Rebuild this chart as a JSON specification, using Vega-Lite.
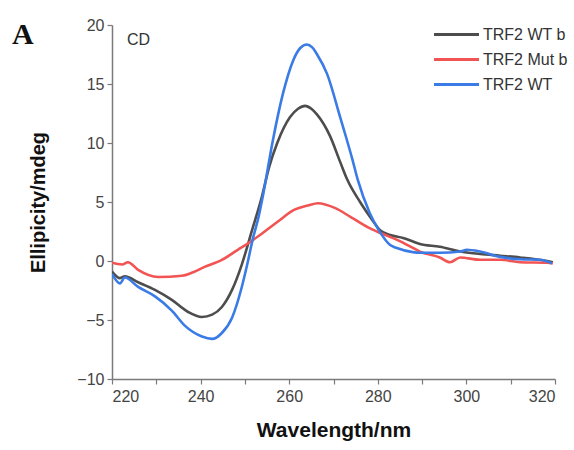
{
  "$schema": "https://vega.github.io/schema/vega-lite/v6.json",
  "width": 443,
  "height": 354,
  "autosize": {"type": "none"},
  "padding": {"left": 112, "top": 25, "right": 19, "bottom": 71},
  "background": "white",
  "title": {"text": "A", "anchor": "start", "frame": "group", "orient": "top", "offset": 0, "dx": -100, "dy": 57, "baseline": "alphabetic", "font": "Liberation Serif", "fontSize": 30, "fontWeight": "bold", "color": "#111"},
  "config": {
    "view": {"stroke": null},
    "font": "Liberation Sans",
    "axis": {"grid": false, "domainColor": "#7a7a7a", "domainWidth": 1.5, "tickColor": "#7a7a7a", "tickWidth": 1.2, "tickSize": 5, "labelColor": "#444", "labelFontSize": 16, "labelFont": "Liberation Sans", "titleFont": "Liberation Sans", "titleFontWeight": "bold", "titleColor": "#111", "titleFontSize": 20},
    "legend": {"orient": "none", "legendX": 328, "legendY": -7, "symbolType": "M-1.5,0H1.5", "symbolSize": 900, "symbolStrokeWidth": 3, "labelFontSize": 16, "labelColor": "#333", "labelFont": "Liberation Sans", "rowPadding": -1, "labelOffset": 10, "padding": 0}
  },
  "datasets": {
    "cd": [
      {"s": "TRF2 WT b", "wl": 220.0, "v": -0.9},
      {"s": "TRF2 WT b", "wl": 221.8, "v": -1.45},
      {"s": "TRF2 WT b", "wl": 222.9, "v": -1.3},
      {"s": "TRF2 WT b", "wl": 225.9, "v": -1.8},
      {"s": "TRF2 WT b", "wl": 229.7, "v": -2.45},
      {"s": "TRF2 WT b", "wl": 233.5, "v": -3.3},
      {"s": "TRF2 WT b", "wl": 237.1, "v": -4.3},
      {"s": "TRF2 WT b", "wl": 240.3, "v": -4.75},
      {"s": "TRF2 WT b", "wl": 242.6, "v": -4.55},
      {"s": "TRF2 WT b", "wl": 244.8, "v": -3.9},
      {"s": "TRF2 WT b", "wl": 247.1, "v": -2.45},
      {"s": "TRF2 WT b", "wl": 249.3, "v": -0.3},
      {"s": "TRF2 WT b", "wl": 251.6, "v": 2.6},
      {"s": "TRF2 WT b", "wl": 253.8, "v": 5.4},
      {"s": "TRF2 WT b", "wl": 255.5, "v": 8.0},
      {"s": "TRF2 WT b", "wl": 257.3, "v": 10.0},
      {"s": "TRF2 WT b", "wl": 260.2, "v": 12.2},
      {"s": "TRF2 WT b", "wl": 262.0, "v": 12.9},
      {"s": "TRF2 WT b", "wl": 263.6, "v": 13.15},
      {"s": "TRF2 WT b", "wl": 265.0, "v": 12.9},
      {"s": "TRF2 WT b", "wl": 266.3, "v": 12.4},
      {"s": "TRF2 WT b", "wl": 269.2, "v": 10.6},
      {"s": "TRF2 WT b", "wl": 271.5, "v": 8.4},
      {"s": "TRF2 WT b", "wl": 273.1, "v": 6.9},
      {"s": "TRF2 WT b", "wl": 276.0, "v": 5.0},
      {"s": "TRF2 WT b", "wl": 278.9, "v": 3.4},
      {"s": "TRF2 WT b", "wl": 280.5, "v": 2.6},
      {"s": "TRF2 WT b", "wl": 282.8, "v": 2.2},
      {"s": "TRF2 WT b", "wl": 285.7, "v": 1.95},
      {"s": "TRF2 WT b", "wl": 289.5, "v": 1.45},
      {"s": "TRF2 WT b", "wl": 294.0, "v": 1.2},
      {"s": "TRF2 WT b", "wl": 298.6, "v": 0.8},
      {"s": "TRF2 WT b", "wl": 303.1, "v": 0.6},
      {"s": "TRF2 WT b", "wl": 307.6, "v": 0.45},
      {"s": "TRF2 WT b", "wl": 312.1, "v": 0.3},
      {"s": "TRF2 WT b", "wl": 318.2, "v": 0.0},
      {"s": "TRF2 WT b", "wl": 319.5, "v": -0.1},
      {"s": "TRF2 Mut b", "wl": 220.0, "v": -0.15},
      {"s": "TRF2 Mut b", "wl": 222.3, "v": -0.3},
      {"s": "TRF2 Mut b", "wl": 223.6, "v": -0.1},
      {"s": "TRF2 Mut b", "wl": 225.9, "v": -0.75},
      {"s": "TRF2 Mut b", "wl": 230.4, "v": -1.35},
      {"s": "TRF2 Mut b", "wl": 235.8, "v": -1.25},
      {"s": "TRF2 Mut b", "wl": 238.0, "v": -1.0},
      {"s": "TRF2 Mut b", "wl": 240.9, "v": -0.5},
      {"s": "TRF2 Mut b", "wl": 244.8, "v": 0.1},
      {"s": "TRF2 Mut b", "wl": 248.4, "v": 0.95},
      {"s": "TRF2 Mut b", "wl": 250.7, "v": 1.5},
      {"s": "TRF2 Mut b", "wl": 253.4, "v": 2.2},
      {"s": "TRF2 Mut b", "wl": 257.3, "v": 3.3},
      {"s": "TRF2 Mut b", "wl": 261.2, "v": 4.35},
      {"s": "TRF2 Mut b", "wl": 264.2, "v": 4.7},
      {"s": "TRF2 Mut b", "wl": 266.5, "v": 4.9},
      {"s": "TRF2 Mut b", "wl": 270.3, "v": 4.5},
      {"s": "TRF2 Mut b", "wl": 274.0, "v": 3.7},
      {"s": "TRF2 Mut b", "wl": 277.8, "v": 2.85},
      {"s": "TRF2 Mut b", "wl": 280.7, "v": 2.35},
      {"s": "TRF2 Mut b", "wl": 284.6, "v": 1.75},
      {"s": "TRF2 Mut b", "wl": 287.5, "v": 1.2},
      {"s": "TRF2 Mut b", "wl": 289.5, "v": 0.8},
      {"s": "TRF2 Mut b", "wl": 294.0, "v": 0.3},
      {"s": "TRF2 Mut b", "wl": 296.3, "v": -0.1},
      {"s": "TRF2 Mut b", "wl": 298.6, "v": 0.3},
      {"s": "TRF2 Mut b", "wl": 303.1, "v": 0.1},
      {"s": "TRF2 Mut b", "wl": 307.6, "v": 0.1},
      {"s": "TRF2 Mut b", "wl": 312.1, "v": -0.1},
      {"s": "TRF2 Mut b", "wl": 318.2, "v": -0.15},
      {"s": "TRF2 Mut b", "wl": 319.5, "v": -0.2},
      {"s": "TRF2 WT", "wl": 220.0, "v": -1.1},
      {"s": "TRF2 WT", "wl": 221.8, "v": -1.9},
      {"s": "TRF2 WT", "wl": 222.9, "v": -1.4},
      {"s": "TRF2 WT", "wl": 225.9, "v": -2.2},
      {"s": "TRF2 WT", "wl": 229.7, "v": -3.0},
      {"s": "TRF2 WT", "wl": 233.5, "v": -4.2},
      {"s": "TRF2 WT", "wl": 236.5, "v": -5.5},
      {"s": "TRF2 WT", "wl": 240.3, "v": -6.4},
      {"s": "TRF2 WT", "wl": 242.6, "v": -6.6},
      {"s": "TRF2 WT", "wl": 244.8, "v": -6.1},
      {"s": "TRF2 WT", "wl": 247.1, "v": -4.8},
      {"s": "TRF2 WT", "wl": 249.3, "v": -2.2},
      {"s": "TRF2 WT", "wl": 250.7, "v": 0.0},
      {"s": "TRF2 WT", "wl": 251.8, "v": 1.9},
      {"s": "TRF2 WT", "wl": 253.0, "v": 3.6},
      {"s": "TRF2 WT", "wl": 254.1, "v": 5.6},
      {"s": "TRF2 WT", "wl": 256.3, "v": 10.2},
      {"s": "TRF2 WT", "wl": 258.6, "v": 14.2},
      {"s": "TRF2 WT", "wl": 260.9, "v": 17.0},
      {"s": "TRF2 WT", "wl": 262.5, "v": 18.05},
      {"s": "TRF2 WT", "wl": 264.0, "v": 18.35},
      {"s": "TRF2 WT", "wl": 265.2, "v": 18.1},
      {"s": "TRF2 WT", "wl": 266.3, "v": 17.5},
      {"s": "TRF2 WT", "wl": 268.5, "v": 15.9},
      {"s": "TRF2 WT", "wl": 271.5, "v": 12.2},
      {"s": "TRF2 WT", "wl": 272.6, "v": 10.8},
      {"s": "TRF2 WT", "wl": 274.2, "v": 8.7},
      {"s": "TRF2 WT", "wl": 275.5, "v": 6.85},
      {"s": "TRF2 WT", "wl": 278.2, "v": 4.05},
      {"s": "TRF2 WT", "wl": 280.5, "v": 2.45},
      {"s": "TRF2 WT", "wl": 282.8, "v": 1.35},
      {"s": "TRF2 WT", "wl": 284.3, "v": 1.1},
      {"s": "TRF2 WT", "wl": 287.9, "v": 0.75},
      {"s": "TRF2 WT", "wl": 289.5, "v": 0.7},
      {"s": "TRF2 WT", "wl": 294.0, "v": 0.7},
      {"s": "TRF2 WT", "wl": 298.6, "v": 0.8},
      {"s": "TRF2 WT", "wl": 300.1, "v": 0.95},
      {"s": "TRF2 WT", "wl": 303.1, "v": 0.8},
      {"s": "TRF2 WT", "wl": 307.6, "v": 0.35},
      {"s": "TRF2 WT", "wl": 312.1, "v": 0.15},
      {"s": "TRF2 WT", "wl": 316.6, "v": 0.1},
      {"s": "TRF2 WT", "wl": 319.3, "v": -0.2}
    ],
    "note": [{"label": "CD", "wl": 223.4, "v": 18.3}]
  },
  "layer": [
    {
      "data": {"name": "cd"},
      "mark": {"type": "line", "strokeWidth": 2.6, "clip": true, "interpolate": "monotone"},
      "encoding": {
        "x": {"field": "wl", "type": "quantitative", "title": "Wavelength/nm", "scale": {"domain": [220, 320], "nice": false},
          "axis": {"values": [220, 230, 240, 250, 260, 270, 280, 290, 300, 310, 320], "labelExpr": "datum.value % 20 == 0 ? datum.label : ''", "titlePadding": 15, "titleFontSize": 21, "labelPadding": 4}},
        "y": {"field": "v", "type": "quantitative", "title": "Ellipicity/mdeg", "scale": {"domain": [-10, 20], "nice": false},
          "axis": {"values": [-10, -7.5, -5, -2.5, 0, 2.5, 5, 7.5, 10, 12.5, 15, 17.5, 20], "labelExpr": "datum.value % 5 == 0 ? datum.label : ''", "titlePadding": 28, "labelPadding": 3}},
        "color": {"field": "s", "type": "nominal", "title": null,
          "scale": {"domain": ["TRF2 WT b", "TRF2 Mut b", "TRF2 WT"], "range": ["#4d4d4d", "#f25454", "#3b7be6"]}},
        "order": {"field": "s", "sort": "descending"}
      }
    },
    {
      "data": {"name": "note"},
      "mark": {"type": "text", "align": "left", "baseline": "alphabetic", "fontSize": 16, "color": "#333", "font": "Liberation Sans"},
      "encoding": {
        "x": {"field": "wl", "type": "quantitative"},
        "y": {"field": "v", "type": "quantitative"},
        "text": {"field": "label"}
      }
    }
  ]
}
